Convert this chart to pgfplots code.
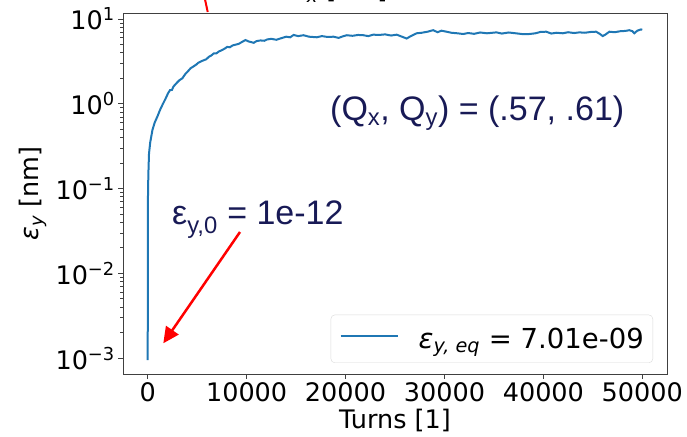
\documentclass[border=0pt]{standalone}
\usepackage{fontspec}
\setmainfont{DejaVu Sans}
\newfontfamily\arialf{Liberation Sans}
\usepackage{pgfplots}
\pgfplotsset{compat=1.18}
\usetikzlibrary{arrows.meta}
\definecolor{mplblue}{HTML}{1F77B4}
\definecolor{navytext}{RGB}{24,26,86}
\newcommand{\tfont}{\fontsize{25.5bp}{30bp}\selectfont}
\begin{document}
\begin{tikzpicture}[x=1bp,y=1bp]
\useasboundingbox (0,0) rectangle (687,437);
\begin{axis}[
  at={(123bp,63bp)}, anchor=south west,
  scale only axis, width=544bp, height=361bp,
  ymode=log, xmin=-2500, xmax=52500, ymin=6.5e-4, ymax=11.8,
  xtick={0,10000,20000,30000,40000,50000},
  xticklabels={0,10000,20000,30000,40000,50000},
  scaled x ticks=false,
  ytick={1e-3,1e-2,1e-1,1,10},
  yticklabels={10\textsuperscript{−3},10\textsuperscript{−2},10\textsuperscript{−1},10\textsuperscript{0},10\textsuperscript{1}},
  tick align=outside, tick pos=left,
  major tick length=5bp, minor tick length=3bp,
  axis line style={black!75, line width=0.8bp},
  every tick/.style={black!75, line width=0.8bp},
  ticklabel style={font=\tfont},
  yticklabel style={inner xsep=3bp},
  xticklabel style={inner ysep=3bp},
  xlabel={Turns [1]},
  ylabel={\textit{ε}\textsubscript{\textit{y}} [nm]},
  label style={font=\tfont},
  x label style={at={(rel axis cs:0.5,-0.1496)}, anchor=base},
  y label style={at={(rel axis cs:-0.1654,0.5)}, anchor=center},
  legend style={at={(1,0)}, anchor=south east, xshift=-14bp, yshift=11bp,
    draw=black!15, rounded corners=4bp, font=\fontsize{27.5bp}{32bp}\selectfont,
    inner xsep=9bp, inner ysep=13bp, nodes={inner sep=0pt}},
  legend image code/.code={%
    \draw[color=mplblue, line width=1.5bp, solid] (0bp,3bp) -- (57bp,3bp);
    \path[draw=none] (0bp,3bp) -- (78bp,3bp);},
  legend cell align=left,
]
\addplot[mplblue, line width=2bp] coordinates {
(0,0.00095) (2,0.002) (5,0.008) (10,0.03) (20,0.07) (40,0.11) (80,0.17)
(131,0.26) (250,0.35) (474,0.49) (700,0.6) (978,0.71) (1250,0.85) (1500,0.98)
(1800,1.15) (2050,1.33) (2250,1.45) (2450,1.46) (2600,1.6) (2900,1.75)
(3200,1.9) (3500,2.0) (3800,2.25) (4100,2.45) (4335,2.63) (4600,2.75)
(4900,2.9) (5100,3.05) (5343,3.15) (5600,3.25) (5900,3.35) (6200,3.6)
(6400,3.7) (6683,3.94) (6950,3.95) (7200,4.15) (7500,4.3) (7800,4.5)
(8034,4.7) (8300,4.65) (8600,4.9) (8900,5.0) (9200,5.1) (9500,5.35)
(9879,5.66) (10200,5.45) (10716,5.25) (11000,5.5) (11400,5.6) (11800,5.55)
(12066,5.75) (12500,5.85) (13000,5.7) (13500,5.95) (14000,6.2) (14400,6.1)
(14750,6.5) (15200,6.3) (15760,6.45) (16300,6.2) (17100,6.1) (17600,6.3)
(18200,6.15) (18780,6.2) (19300,6.0) (19800,6.3) (20130,6.45) (20700,6.35)
(21270,6.5) (21800,6.45) (22300,6.3) (22800,6.55) (23400,6.5) (24000,6.6)
(24600,6.4) (25170,6.55) (25700,6.2) (26180,5.9) (26600,6.3) (27190,6.8)
(27700,6.9) (28300,7.1) (28860,7.4) (29300,7.0) (29700,7.3) (30210,7.1)
(30700,6.9) (31300,6.8) (31890,6.67) (32400,6.85) (33000,6.7) (33600,6.95)
(34300,6.8) (35250,6.97) (35800,6.75) (36500,6.95) (37200,6.8) (37900,6.65)
(38610,6.67) (39200,6.8) (39700,7.05) (40290,7.1) (40800,6.75) (41300,6.9)
(41970,6.8) (42500,7.0) (43100,6.85) (43650,6.97) (44200,6.9) (44800,7.05)
(45330,7.1) (45700,6.7) (46000,6.3) (46300,6.6) (46670,7.1) (47200,7.0)
(47800,7.2) (48300,7.25) (48690,7.4) (49000,7.2) (49190,6.8) (49500,7.3)
(49870,7.55) (49999,7.5)
};
\addlegendentry{\textit{ε}\textsubscript{\textit{y, eq}} = 7.01e-09}
\end{axis}
% annotations (pixel coordinates, y measured from bottom)
\draw[red, line width=2bp] (204.5,440) -- (207.7,425);
\node[anchor=base west, inner sep=0pt] at (293,438) {\tfont\textit{ε}\textsubscript{\textit{x}} [nm]};
\node[anchor=base west, inner sep=0pt, text=navytext] at (330,316)
  {\arialf\fontsize{34bp}{40bp}\selectfont (Q\textsubscript{x}, Q\textsubscript{y}) = (.57, .61)};
\node[anchor=base west, inner sep=0pt, text=navytext] at (172,212)
  {\arialf\fontsize{34bp}{40bp}\selectfont ε\textsubscript{y,0} = 1e-12};
\draw[red, line width=2.5bp, -{Triangle[length=16bp,width=15bp]}] (240,205) -- (163.3,93.7);
\end{tikzpicture}
\end{document}
